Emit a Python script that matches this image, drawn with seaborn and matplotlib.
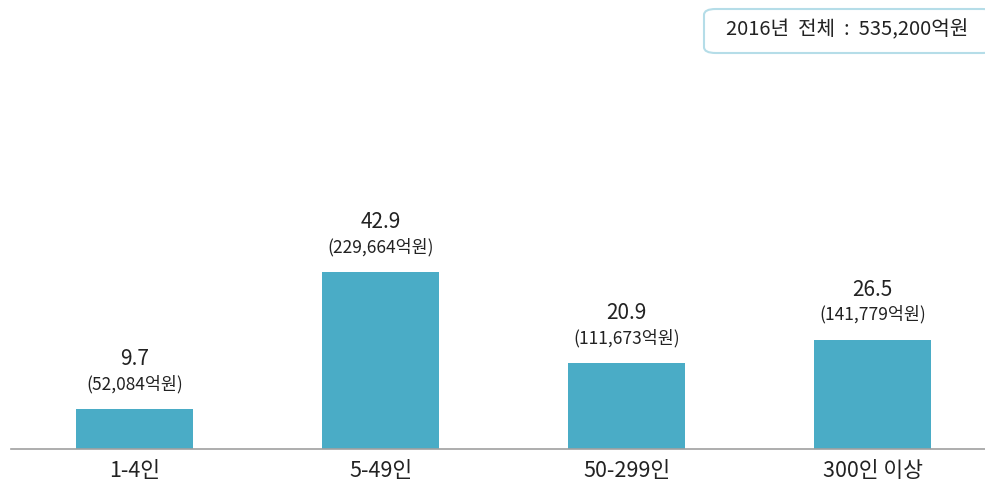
import seaborn as sns
import matplotlib.pyplot as plt
from matplotlib.patches import FancyBboxPatch

categories = ["1-4인", "5-49인", "50-299인", "300인 이상"]
shares = [9.7, 42.9, 20.9, 26.5]
amounts = ["52,084", "229,664", "111,673", "141,779"]
total_label = "2016년  전체  :  535,200억원"

sns.set_style("white")
plt.rcParams["font.family"] = ["Noto Sans CJK KR", "DejaVu Sans"]
plt.rcParams["font.weight"] = "light"

fig = plt.figure(figsize=(9.85, 4.88), dpi=100)
ax = fig.add_axes([11 / 985, 39 / 488, 974 / 985, 449 / 488])

sns.barplot(x=categories, y=shares, color="#4aacc6", width=0.476,
            saturation=1, linewidth=0, ax=ax)

for i, (v, a) in enumerate(zip(shares, amounts)):
    ax.annotate(f"{v}", (i, v), xytext=(0, 50), textcoords="offset pixels",
                ha="center", va="center", fontsize=15, color="#222222")
    ax.annotate(f"({a}억원)", (i, v), xytext=(0, 25), textcoords="offset pixels",
                ha="center", va="center", fontsize=12.5, color="#222222")

ax.set_xlim(-0.502, 3.457)
ax.set_ylim(0, 108.8)
ax.set_yticks([])
sns.despine(ax=ax, left=True, top=True, right=True)
ax.spines["bottom"].set_color("#a0a0a0")
ax.spines["bottom"].set_linewidth(1.2)
ax.tick_params(axis="x", length=0, pad=8, labelsize=15.5, colors="#222222")

box = FancyBboxPatch((704 / 985, (488 - 53) / 488), 290 / 985, 44 / 488,
                     boxstyle="round,pad=0,rounding_size=0.012",
                     transform=fig.transFigure, facecolor="white",
                     edgecolor="#b5dde8", linewidth=1.5)
fig.patches.append(box)
fig.text(847 / 985, (488 - 30) / 488, total_label, ha="center", va="center",
         fontsize=14.5, color="#222222")

fig.savefig("out.png", dpi=100)
